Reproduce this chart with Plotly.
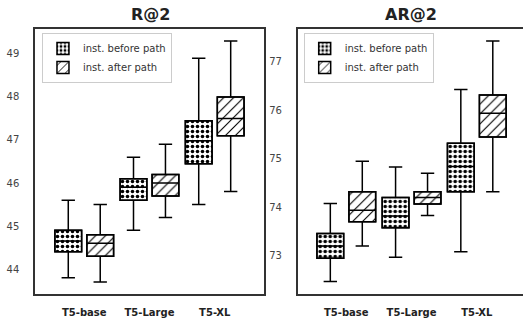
import plotly.graph_objects as go

categories = ["T5-base", "T5-Large", "T5-XL"]
series_names = ["inst. before path", "inst. after path"]

# R@2 stats
r2_before_low = [43.8, 44.9, 45.5]
r2_before_q1 = [44.4, 45.6, 46.45]
r2_before_med = [44.65, 45.9, 46.98]
r2_before_q3 = [44.9, 46.1, 47.45]
r2_before_high = [45.6, 46.6, 48.9]

r2_after_low = [43.7, 45.2, 45.8]
r2_after_q1 = [44.3, 45.7, 47.1]
r2_after_med = [44.6, 46.0, 47.5]
r2_after_q3 = [44.8, 46.2, 48.0]
r2_after_high = [45.5, 46.9, 49.3]

# AR@2 stats
ar2_before_low = [72.47, 72.97, 73.08]
ar2_before_q1 = [72.95, 73.58, 74.32]
ar2_before_med = [73.2, 73.82, 74.84]
ar2_before_q3 = [73.46, 74.2, 75.32]
ar2_before_high = [74.08, 74.83, 76.43]

ar2_after_low = [73.2, 73.83, 74.32]
ar2_after_q1 = [73.7, 74.07, 75.45]
ar2_after_med = [73.94, 74.2, 75.94]
ar2_after_q3 = [74.32, 74.32, 76.32]
ar2_after_high = [74.95, 74.7, 77.43]

OFFSET = 0.245
BOXW = 0.41
patterns = [dict(shape=".", size=5, solidity=0.4, fgcolor="black", bgcolor="white", fgopacity=1),
            dict(shape="/", size=7, solidity=0.16, fgcolor="black", bgcolor="white", fgopacity=1)]

fig = go.Figure()

panels = [
    (1, [(r2_before_low, r2_before_q1, r2_before_med, r2_before_q3, r2_before_high),
         (r2_after_low, r2_after_q1, r2_after_med, r2_after_q3, r2_after_high)], "legend"),
    (2, [(ar2_before_low, ar2_before_q1, ar2_before_med, ar2_before_q3, ar2_before_high),
         (ar2_after_low, ar2_after_q1, ar2_after_med, ar2_after_q3, ar2_after_high)], "legend2"),
]

for pi, series, leg in panels:
    xa = "x" if pi == 1 else "x2"
    ya = "y" if pi == 1 else "y2"
    for si, (lo, q1, med, q3, hi) in enumerate(series):
        off = -OFFSET if si == 0 else OFFSET
        xs = [i + off for i in range(len(categories))]
        fig.add_trace(go.Bar(
            x=xs, y=[b - a for a, b in zip(q1, q3)], base=q1, width=BOXW,
            marker=dict(color="white", pattern=patterns[si],
                        line=dict(color="black", width=1.5)),
            name=series_names[si], showlegend=True, legend=leg,
            xaxis=xa, yaxis=ya, hoverinfo="skip"))
        fig.add_trace(go.Box(
            x=xs, q1=q1, median=med, q3=q3, lowerfence=lo, upperfence=hi,
            width=BOXW, whiskerwidth=0.5, fillcolor="rgba(0,0,0,0)",
            line=dict(color="black", width=1.5), boxpoints=False,
            showlegend=False, xaxis=xa, yaxis=ya))

line_common = dict(showgrid=False, zeroline=False, showline=True,
                   linecolor="#333", linewidth=1.5, ticks="")
ytick_font = dict(family="DejaVu Sans", size=10, color="#444")
xtick_font = dict(family="DejaVu Sans", size=10, color="#222", weight="bold")
legend_common = dict(xanchor="left", yanchor="top",
                     bgcolor="white", bordercolor="#ccc", borderwidth=1,
                     font=dict(family="DejaVu Sans", size=10, color="#333"),
                     tracegroupgap=0, itemwidth=30)

fig.update_layout(
    width=523, height=322,
    margin=dict(l=35, r=0, t=28.5, b=27.7),
    plot_bgcolor="white", paper_bgcolor="white",
    barmode="overlay", boxmode="overlay",
    font=dict(family="DejaVu Sans", color="#222"),
    xaxis=dict(domain=[0, 0.4693], range=[-0.755, 2.756], mirror=True,
               tickvals=[0, 1, 2], ticktext=categories, ticklabelstandoff=8,
               tickfont=xtick_font, **line_common),
    yaxis=dict(domain=[0, 1], range=[43.42, 49.58], mirror=True,
               tickvals=[44, 45, 46, 47, 48, 49], ticklabelstandoff=12,
               tickfont=ytick_font, **line_common),
    xaxis2=dict(domain=[0.5383, 1], range=[-0.745, 2.708], mirror=True, anchor="y2",
                tickvals=[0, 1, 2], ticktext=categories, ticklabelstandoff=8,
                tickfont=xtick_font, **line_common),
    yaxis2=dict(domain=[0, 1], range=[72.21, 77.68], mirror=False, anchor="x2",
                tickvals=[73, 74, 75, 76, 77], ticklabelstandoff=12,
                tickfont=ytick_font, **line_common),
    legend=dict(x=0.0143, y=0.985, **legend_common),
    legend2=dict(x=0.5506, y=0.985, **legend_common),
)

# titles placed by pixel position, converted to paper coords
plot_w = 523 - 35
plot_h = 322 - 28.5 - 27.7
titles = [("<b>R@2</b>", 150, 14), ("<b>AR@2</b>", 411, 14)]
for txt, px, py in titles:
    fig.add_annotation(text=txt, x=(px - 35) / plot_w, y=1 + (28.5 - py) / plot_h,
                       xref="paper", yref="paper", xanchor="center", yanchor="middle",
                       showarrow=False,
                       font=dict(family="DejaVu Sans", size=16, color="#222"))

fig.write_html("out.html", config={"displayModeBar": False},
               post_script="document.body.style.margin='0';")
